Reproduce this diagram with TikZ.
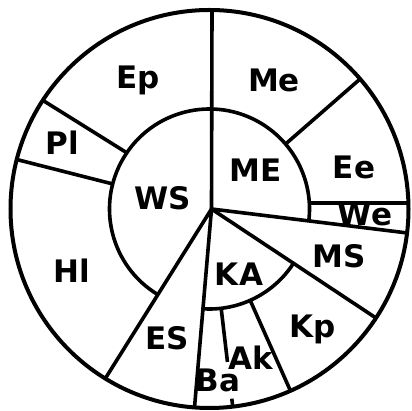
\documentclass[tikz,border=0pt]{standalone}
\usepackage{fontspec}
\setmainfont{DejaVu Sans}
\usetikzlibrary{calc}
\begin{document}
\begin{tikzpicture}[x=1pt,y=1pt,line width=3.6pt,
  lbl/.style={font=\fontsize{31}{31}\selectfont\bfseries,inner sep=0pt}]
\useasboundingbox (0,0) rectangle (412,411);
\coordinate (O) at (209.5,202);
\coordinate (C) at (211.5,202);
% outer circle
\draw[line width=4pt] (O) circle[radius=199pt];
% inner arcs
\draw ($(O)+(239:100)$) arc[start angle=239,end angle=-6.9,radius=100pt];
\draw ($(O)+(-33:100)$) arc[start angle=-33,end angle=-94,radius=100pt];
% spokes from the centre
\coordinate (top) at (212,401);
\coordinate (mst) at (407.5,178);
\coordinate (msk) at (376,93);
\coordinate (dn) at (194.5,3.5);
\coordinate (es) at (105,32);
\draw (top) -- (C);
\draw (C) -- (mst);
\draw (C) -- (msk);
\draw (C) -- (dn);
\draw (C) -- (es);
% ring separators
\draw ($(O)+(165.5:100)$) -- ($(O)+(165.6:199)$);
\draw ($(O)+(145.8:100)$) -- ($(O)+(146.9:199)$);
\draw ($(O)+(40.5:100)$) -- ($(O)+(40.8:199)$);
\draw (309.3,208) -- (408.4,208);
\draw ($(O)+(-66:100)$) -- ($(O)+(-66:199)$);
\draw ($(O)+(-83.3:100)$) -- ($(O)+(-83.3:154)$);
\draw ($(O)+(-83.3:191)$) -- ($(O)+(-83.3:199)$);
% labels
\node[lbl] (Ep) at (138,331) {Ep};
\node[lbl] (Pl) at (62,268) {Pl};
\node[lbl] (WS) at (163,213) {WS};
\node[lbl] (ME) at (256,241) {ME};
\node[lbl] (Me) at (274,331) {Me};
\node[lbl] (Ee) at (354,244) {Ee};
\node[lbl] (We) at (365,197) {We};
\node[lbl] (MS) at (339,155) {MS};
\node[lbl] (KA) at (239,137) {KA};
\node[lbl] (Kp) at (313,82) {Kp};
\node[lbl] (Ak) at (251,53) {Ak};
\node[lbl] (Ba) at (218,31) {Ba};
\node[lbl] (ES) at (167,73) {ES};
\node[lbl] (Hl) at (72,140) {Hl};
\end{tikzpicture}
\end{document}
